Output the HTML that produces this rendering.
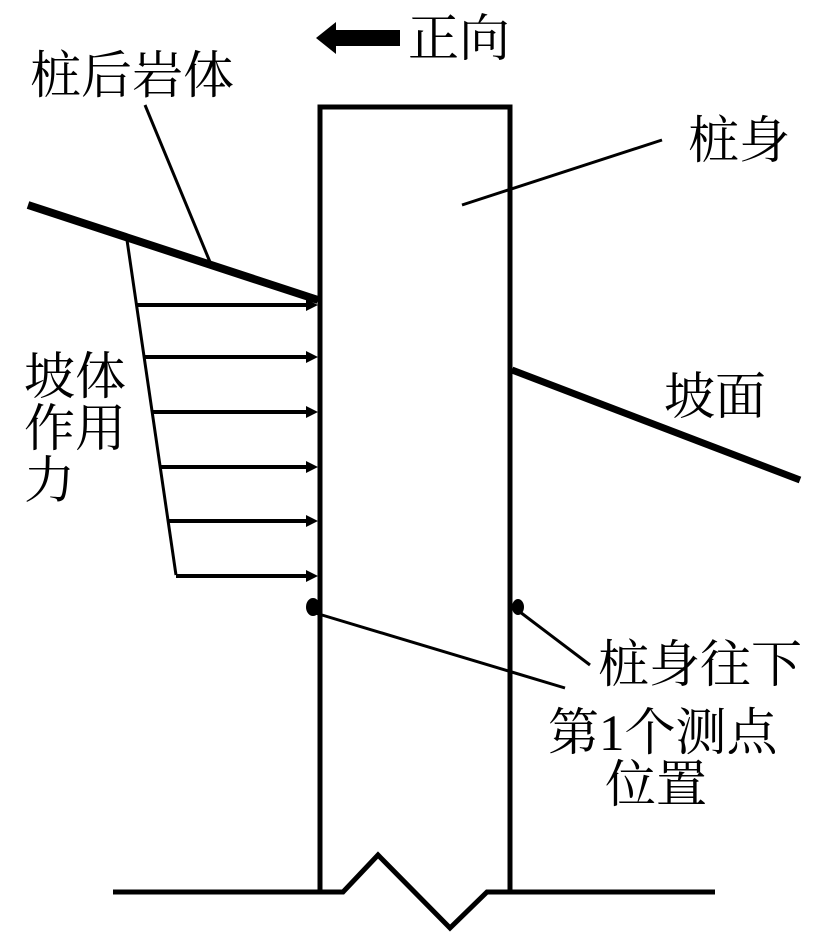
<!DOCTYPE html>
<html><head><meta charset="utf-8"><style>
html,body{margin:0;padding:0;background:#fff}
svg text{font-family:"Liberation Serif","Noto Serif CJK SC",serif;font-size:51px;fill:#000}
</style></head><body>
<svg width="827" height="945" viewBox="0 0 827 945" xmlns="http://www.w3.org/2000/svg">
<g stroke="#000" fill="none" stroke-linecap="butt">
<path d="M320 892 V107 H510 V892" stroke-width="5"/>
<path d="M113 892 H343 L378 855 L450 928 L487 892 H715" stroke-width="5"/>
<line x1="28" y1="205" x2="318" y2="300" stroke-width="8"/>
<line x1="512" y1="370" x2="800" y2="480" stroke-width="7"/>
<line x1="127" y1="240" x2="176" y2="575" stroke-width="3"/>
<line x1="145" y1="105" x2="210" y2="262" stroke-width="3"/>
<line x1="662" y1="140" x2="462" y2="205" stroke-width="3"/>
<line x1="312" y1="612" x2="565" y2="688" stroke-width="3"/>
<line x1="520" y1="612" x2="590" y2="665" stroke-width="3"/>
<g stroke-width="4">
<line x1="136" y1="305" x2="308" y2="305"/>
<line x1="144" y1="357" x2="308" y2="357"/>
<line x1="152" y1="412" x2="308" y2="412"/>
<line x1="160" y1="467" x2="308" y2="467"/>
<line x1="168" y1="521" x2="308" y2="521"/>
<line x1="176" y1="576" x2="308" y2="576"/>
</g>
</g>
<g fill="#000">
<path d="M318 305 l-12 -6 v12z M318 357 l-12 -6 v12z M318 412 l-12 -6 v12z M318 467 l-12 -6 v12z M318 521 l-12 -6 v12z M318 576 l-12 -6 v12z"/>
<path d="M316 38 L336 22 V30 H400 V46 H336 V54 Z"/>
<ellipse cx="313" cy="607" rx="7" ry="9"/>
<ellipse cx="518" cy="607" rx="6" ry="8"/>
</g>
<text x="408" y="56">正向</text>
<text x="30" y="93">桩后岩体</text>
<text x="688" y="158">桩身</text>
<text x="664" y="414">坡面</text>
<text x="24" y="394">坡体</text>
<text x="24" y="446">作用</text>
<text x="24" y="498">力</text>
<text x="598" y="682">桩身往下</text>
<text x="548" y="750">第1个测点</text>
<text x="605" y="802">位置</text>
</svg>
</body></html>
